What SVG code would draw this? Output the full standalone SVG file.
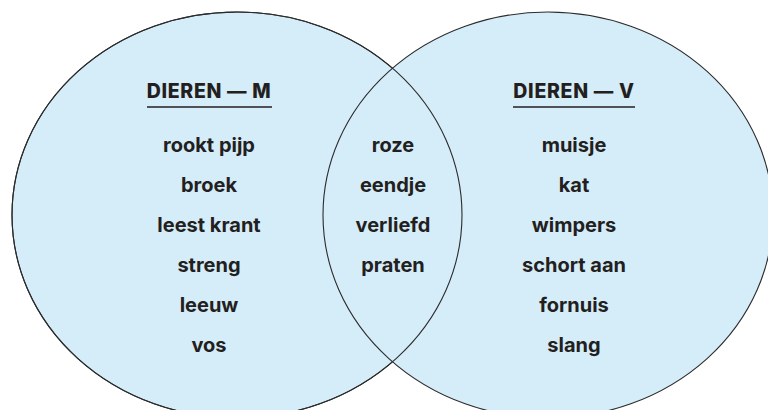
<svg xmlns="http://www.w3.org/2000/svg" width="768" height="410" viewBox="0 0 768 410">
<style>
.c{fill:#d5ecf9;stroke:#2b2b2b;stroke-width:1.1}
.t{font-family:Inter,"Open Sans","Liberation Sans",sans-serif;font-weight:700;font-size:20px;fill:#231f20;text-anchor:middle}
.h{font-family:Inter,"Open Sans","Liberation Sans",sans-serif;font-weight:800;font-size:19.5px;fill:#231f20;text-anchor:middle;letter-spacing:0.7px}
.u{stroke:#231f20;stroke-width:1.5}
</style>
<rect width="768" height="410" fill="#ffffff"/>
<g id="circles">
<ellipse id="circle-m" class="c" cx="237" cy="215" rx="225" ry="203"/>
<ellipse id="circle-v" class="c" cx="548" cy="215" rx="225" ry="203"/>
<ellipse id="circle-m-outline" cx="237" cy="215" rx="225" ry="203" fill="none" stroke="#2b2b2b" stroke-width="1.1"/>
</g>
<g id="group-m">
<text class="h" x="209" y="98">DIEREN — M</text>
<line class="u" x1="147" y1="107" x2="272" y2="107"/>
<text class="t" x="209" y="152">rookt pijp</text>
<text class="t" x="209" y="192">broek</text>
<text class="t" x="209" y="232">leest krant</text>
<text class="t" x="209" y="272">streng</text>
<text class="t" x="209" y="312">leeuw</text>
<text class="t" x="209" y="352">vos</text>
</g>
<g id="group-both">
<text class="t" x="393" y="152">roze</text>
<text class="t" x="393" y="192">eendje</text>
<text class="t" x="393" y="232">verliefd</text>
<text class="t" x="393" y="272">praten</text>
</g>
<g id="group-v">
<text class="h" x="574" y="98">DIEREN — V</text>
<line class="u" x1="513" y1="107" x2="635" y2="107"/>
<text class="t" x="574" y="152">muisje</text>
<text class="t" x="574" y="192">kat</text>
<text class="t" x="574" y="232">wimpers</text>
<text class="t" x="574" y="272">schort aan</text>
<text class="t" x="574" y="312">fornuis</text>
<text class="t" x="574" y="352">slang</text>
</g>
</svg>
